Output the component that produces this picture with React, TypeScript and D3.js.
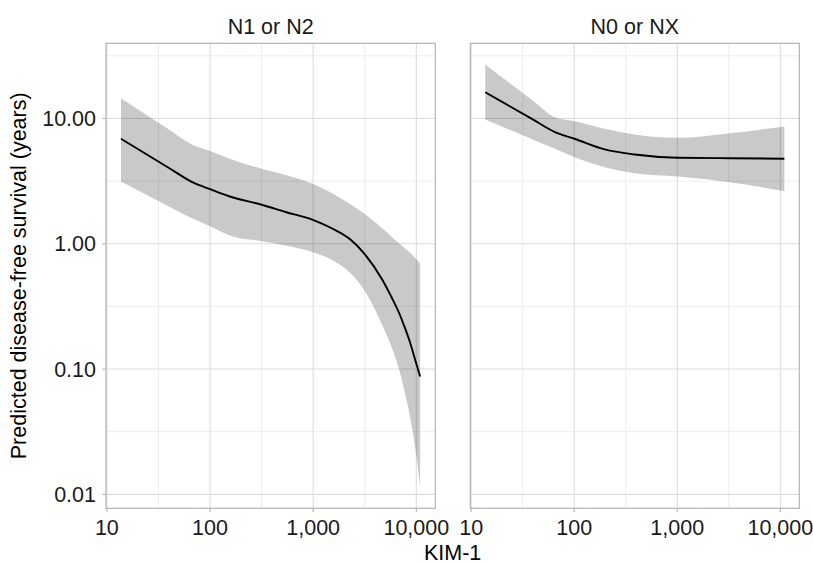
import React from "react";
import * as d3 from "d3";

const panelTitles = ["N1 or N2", "N0 or NX"];

const kimN12 = [13.7, 40, 67.5, 101.6, 155.2, 316.6, 540.5, 993.4, 1551, 2251, 3146, 4727, 5741, 6862, 7671, 8575, 9955, 10885];
const fitN12 = [6.887, 4.027, 3.1, 2.713, 2.385, 2.048, 1.794, 1.554, 1.317, 1.096, 0.832, 0.5095, 0.376, 0.2763, 0.218, 0.1692, 0.1119, 0.0873];
const upperN12 = [14.52, 8.17, 6.17, 5.48, 4.77, 3.97, 3.54, 3.01, 2.506, 2.086, 1.735, 1.317, 1.142, 1.0, 0.927, 0.86, 0.756, 0.692];
const lowerN12 = [3.14, 1.985, 1.592, 1.374, 1.165, 1.049, 0.969, 0.857, 0.736, 0.593, 0.424, 0.2204, 0.15, 0.0975, 0.0669, 0.044, 0.0211, 0.01141];

const kimN0 = [13.7, 40, 65, 100.7, 198, 386, 1014, 3210, 10940];
const fitN0 = [16.2, 9.78, 7.78, 6.89, 5.66, 5.16, 4.86, 4.82, 4.77];
const upperN0 = [27.0, 13.8, 10.24, 9.52, 8.27, 7.45, 7.01, 7.63, 8.63];
const lowerN0 = [9.82, 6.77, 5.73, 4.91, 4.09, 3.66, 3.44, 3.1, 2.63];

const xMajor = [10, 100, 1000, 10000];
const xMinor = [31.62, 316.2, 3162];
const yMajor = [10, 1, 0.1, 0.01];
const yMinor = [31.62, 3.162, 0.3162, 0.03162];

const xTitle = "KIM-1";
const yTitle = "Predicted disease-free survival (years)";

const W = 813;
const H = 564;
const FONT = "'Liberation Sans', Arial, Helvetica, sans-serif";
const FS = 21.5;

function expandLog(vals: number[]): [number, number] {
  const lo = Math.log10(d3.min(vals) as number);
  const hi = Math.log10(d3.max(vals) as number);
  const pad = (hi - lo) * 0.05;
  return [Math.pow(10, lo - pad), Math.pow(10, hi + pad)];
}

export default function App() {
  const top = 43.3;
  const bottom = 508.3;
  const panels = [
    { left: 106, right: 435.3, kim: kimN12, fit: fitN12, up: upperN12, lo: lowerN12 },
    { left: 470.3, right: 799.3, kim: kimN0, fit: fitN0, up: upperN0, lo: lowerN0 },
  ];
  const xDom = expandLog([...kimN12, ...kimN0]);
  const yDom = expandLog([...upperN12, ...lowerN12, ...upperN0, ...lowerN0]);
  const y = d3.scaleLog().domain(yDom).range([bottom, top]);
  const fmtY = d3.format(".2f");
  const fmtX = d3.format(",");

  return (
    <svg width={W} height={H} style={{ position: "absolute", left: 0, top: 0, background: "#fff" }}>
      {panels.map((p, i) => {
        const x = d3.scaleLog().domain(xDom).range([p.left, p.right]);
        const idx = d3.range(p.kim.length);
        const area = d3
          .area<number>()
          .x((j) => x(p.kim[j]))
          .y0((j) => y(p.lo[j]))
          .y1((j) => y(p.up[j]))
          .curve(d3.curveMonotoneX);
        const line = d3
          .line<number>()
          .x((j) => x(p.kim[j]))
          .y((j) => y(p.fit[j]))
          .curve(d3.curveMonotoneX);
        return (
          <g key={i}>
            <rect x={p.left} y={top} width={p.right - p.left} height={bottom - top} fill="#fff" />
            {xMinor.map((v) => (
              <line key={"xm" + v} x1={x(v)} x2={x(v)} y1={top} y2={bottom} stroke="#ebebeb" strokeWidth={0.9} />
            ))}
            {yMinor.map((v) => (
              <line key={"ym" + v} x1={p.left} x2={p.right} y1={y(v)} y2={y(v)} stroke="#ebebeb" strokeWidth={0.9} />
            ))}
            {xMajor.map((v) => (
              <line key={"xM" + v} x1={x(v)} x2={x(v)} y1={top} y2={bottom} stroke="#dcdcdc" strokeWidth={1.1} />
            ))}
            {yMajor.map((v) => (
              <line key={"yM" + v} x1={p.left} x2={p.right} y1={y(v)} y2={y(v)} stroke="#dcdcdc" strokeWidth={1.1} />
            ))}
            <path d={area(idx) || ""} fill="#000" fillOpacity={0.21} />
            <path d={line(idx) || ""} fill="none" stroke="#000" strokeWidth={1.9} />
            <rect x={p.left} y={top} width={p.right - p.left} height={bottom - top} fill="none" stroke="#b3b3b3" strokeWidth={1.2} />
            {xMajor.map((v) => (
              <g key={"xt" + v}>
                <line x1={x(v)} x2={x(v)} y1={bottom} y2={bottom + 3.7} stroke="#b3b3b3" strokeWidth={1.1} />
                <text x={x(v)} y={535} textAnchor="middle" fontFamily={FONT} fontSize={FS} fill="#1a1a1a">
                  {fmtX(v)}
                </text>
              </g>
            ))}
            <text x={(p.left + p.right) / 2} y={34.3} textAnchor="middle" fontFamily={FONT} fontSize={FS} fill="#1a1a1a">
              {panelTitles[i]}
            </text>
            {i === 0 &&
              yMajor.map((v) => (
                <g key={"yt" + v}>
                  <line x1={p.left - 3.7} x2={p.left} y1={y(v)} y2={y(v)} stroke="#b3b3b3" strokeWidth={1.1} />
                  <text x={96} y={y(v) + 7.6} textAnchor="end" fontFamily={FONT} fontSize={FS} fill="#1a1a1a">
                    {fmtY(v)}
                  </text>
                </g>
              ))}
          </g>
        );
      })}
      <text x={452.6} y={559.5} textAnchor="middle" fontFamily={FONT} fontSize={FS} fill="#000">
        {xTitle}
      </text>
      <text
        transform={`translate(26,${(top + bottom) / 2}) rotate(-90)`}
        textAnchor="middle"
        fontFamily={FONT}
        fontSize={FS}
        fill="#000"
      >
        {yTitle}
      </text>
    </svg>
  );
}
